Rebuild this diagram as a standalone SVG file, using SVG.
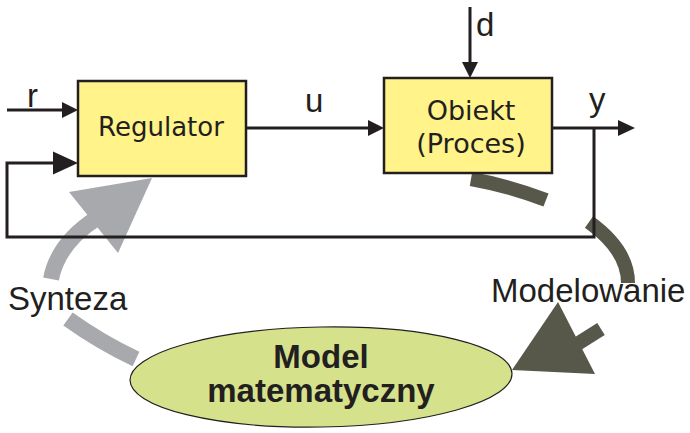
<svg xmlns="http://www.w3.org/2000/svg" width="690" height="433" viewBox="0 0 690 433">
<style>
.box{fill:#FFF389;stroke:#231F20;stroke-width:2.5}
.btxt{font-family:"DejaVu Sans",Verdana,sans-serif;font-size:26px;fill:#231F20;text-anchor:middle}
.lbl{font-family:"Liberation Sans",Arial,sans-serif;font-size:33px;fill:#231F20}
.ln{fill:none;stroke:#231F20;stroke-width:3}
.ah{fill:#231F20}
.gray{fill:none;stroke:#A7A9AC;stroke-width:16}
.dark{fill:none;stroke:#58584A;stroke-width:14}
.mtxt{font-family:"Liberation Sans",Arial,sans-serif;font-size:33px;font-weight:bold;fill:#231F20;text-anchor:middle}
</style>
<rect width="690" height="433" fill="#ffffff"/>
<g id="arrows-bg">
<path class="gray" d="M136,359 Q100,342 68,319"/>
<path class="gray" d="M51,279 Q58,243 97,218"/>
<polygon fill="#A7A9AC" points="69,192 152,178 118,253"/>
<path class="dark" d="M471,179 Q510,186 546,200"/>
<path class="dark" d="M589,222 Q628,250 628,283"/>
<path class="dark" d="M601,329 L574,346"/>
<polygon fill="#58584A" points="558,302 595,374 512,370"/>
</g>
<g id="connectors">
<line class="ln" x1="7" y1="110" x2="64" y2="110"/>
<polygon class="ah" points="62,102 78,110 62,118"/>
<line class="ln" x1="246" y1="128" x2="370" y2="128"/>
<polygon class="ah" points="368,120 384,128 368,136"/>
<line class="ln" x1="470" y1="7" x2="470" y2="64"/>
<polygon class="ah" points="462,62 470,78 478,62"/>
<line class="ln" x1="552" y1="128" x2="620" y2="128"/>
<polygon class="ah" points="618,120 635,128 618,136"/>
<polyline class="ln" points="594,128 594,237 7,237 7,163 55,163"/>
<polygon class="ah" points="53,151.5 78,163 53,174.5"/>
</g>
<g id="labels">
<text class="lbl" x="27" y="107">r</text>
<text class="lbl" x="305" y="112">u</text>
<text class="lbl" x="476" y="36">d</text>
<text class="lbl" x="589" y="111">y</text>
<text class="lbl" x="8" y="310">Synteza</text>
<text class="lbl" x="491" y="302">Modelowanie</text>
</g>
<g id="regulator">
<rect class="box" x="78" y="81" width="168" height="95"/>
<text class="btxt" x="161" y="136">Regulator</text>
</g>
<g id="obiekt">
<rect class="box" x="384" y="78" width="168" height="95"/>
<text class="btxt" x="471" y="120" style="font-size:27px">Obiekt</text>
<text class="btxt" x="471" y="153" style="font-size:27px">(Proces)</text>
</g>
<g id="model">
<ellipse cx="321" cy="377" rx="191" ry="50" fill="#D5E28B" stroke="#231F20" stroke-width="1.2" transform="rotate(-1 321 377)"/>
<text class="mtxt" x="321" y="368">Model</text>
<text class="mtxt" x="321" y="402">matematyczny</text>
</g>
</svg>
